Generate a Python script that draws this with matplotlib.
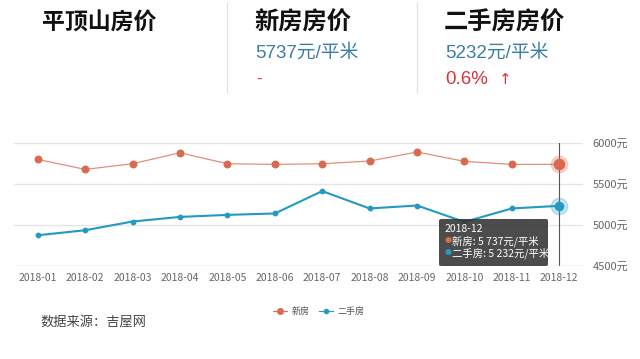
import matplotlib
matplotlib.use("Agg")
import matplotlib.pyplot as plt
from matplotlib.patches import FancyBboxPatch

plt.rcParams['font.family'] = ['Noto Sans CJK SC', 'DejaVu Sans']

# 数据
months = ["2018-01", "2018-02", "2018-03", "2018-04", "2018-05", "2018-06",
          "2018-07", "2018-08", "2018-09", "2018-10", "2018-11", "2018-12"]
new_price = [5797, 5675, 5744, 5878, 5744, 5736, 5744, 5777, 5887, 5773, 5736, 5737]
old_price = [4874, 4935, 5041, 5097, 5122, 5139, 5411, 5200, 5236, 5036, 5200, 5232]
yticks = [4500, 5000, 5500, 6000]

c_new = '#d9694f'
c_old = '#2399c4'
num_font = ['Liberation Sans', 'Noto Sans CJK SC']

fig = plt.figure(figsize=(6.4, 3.59), dpi=100)
fig.patch.set_facecolor('white')

# 顶部标题区
fig.text(42/640, 1-23/359, "平顶山房价", fontsize=16.5, fontweight='bold', va='center', color='#111111')
fig.text(254/640, 1-23/359, "新房房价", fontsize=17.5, fontweight='bold', va='center', color='#111111')
fig.text(255/640, 1-53/359, "5737元/平米", fontsize=13.5, va='center', color='#3a7ea8', family=num_font)
fig.text(256/640, 1-79/359, "-", fontsize=12, va='center', color='#d9343a', family=num_font)
fig.text(444/640, 1-23/359, "二手房房价", fontsize=17.5, fontweight='bold', va='center', color='#111111')
fig.text(445/640, 1-53/359, "5232元/平米", fontsize=13.5, va='center', color='#3a7ea8', family=num_font)
fig.text(445/640, 1-80/359, "0.6%", fontsize=13.5, va='center', color='#d9343a', family=num_font)
fig.text(499/640, 1-80/359, "↑", fontsize=11, va='center', color='#d9343a', family=['DejaVu Sans'])
for xd in [227, 417]:
    fig.add_artist(plt.Line2D([xd/640, xd/640], [1-3/359, 1-92/359], color='#e2e2e2', lw=0.8))

# 主图
ax = fig.add_axes([14/640, 1-266/359, (583-14)/640, (266-142.7)/359])
x = list(range(len(months)))
ax.plot(x, new_price, color=c_new, lw=0.9, alpha=0.75, zorder=3)
ax.scatter(x, new_price, color=c_new, s=22, zorder=4)
ax.plot(x, old_price, color=c_old, lw=1.5, zorder=3)
ax.scatter(x, old_price, color=c_old, s=10, zorder=4)

# 高亮最后一个点
ax.scatter([x[-1]], [new_price[-1]], s=140, color=c_new, alpha=0.25, zorder=4)
ax.scatter([x[-1]], [new_price[-1]], s=55, color=c_new, zorder=5)
ax.scatter([x[-1]], [old_price[-1]], s=140, color=c_old, alpha=0.25, zorder=4)
ax.scatter([x[-1]], [old_price[-1]], s=35, color=c_old, zorder=5)
ax.axvline(x[-1], color='#555555', lw=0.8, zorder=2)

ax.set_xlim(-0.5, 11.5)
ax.set_ylim(4500, 6000)
ax.set_xticks(x)
ax.set_xticklabels(months, fontsize=7.5, color='#666666')
ax.set_yticks(yticks)
ax.set_yticklabels([f"{v}元" for v in yticks], fontsize=8, color='#666666')
ax.yaxis.tick_right()
ax.tick_params(axis='both', length=0, pad=5)
ax.tick_params(axis='y', pad=7)
for s in ax.spines.values():
    s.set_visible(False)
ax.grid(axis='y', color='#e4e4e4', lw=0.9)
ax.axhline(4500, color='#dddddd', lw=1)

# 提示框
tip = FancyBboxPatch((439/640, 1-266/359), (548-439)/640, (266-219)/359,
                     boxstyle='round,pad=0,rounding_size=0.004', transform=fig.transFigure,
                     facecolor='#333333', alpha=0.88, edgecolor='none', zorder=10)
fig.add_artist(tip)
fig.text(445/640, 1-229/359, months[-1], fontsize=7.5, color='white', va='center', zorder=11)
fig.text(445/640, 1-241/359, "●", fontsize=5, color=c_new, va='center', zorder=11)
fig.text(452/640, 1-241/359, f"新房: {new_price[-1]:,}元/平米".replace(',', ' '), fontsize=7.5, color='white', va='center', zorder=11)
fig.text(445/640, 1-253/359, "●", fontsize=5, color=c_old, va='center', zorder=11)
fig.text(452/640, 1-253/359, f"二手房: {old_price[-1]:,}元/平米".replace(',', ' '), fontsize=7.5, color='white', va='center', zorder=11)

# 图例
fig.add_artist(plt.Line2D([273/640, 287/640], [1-311/359]*2, color=c_new, lw=0.8))
fig.add_artist(plt.Line2D([280/640], [1-311/359], marker='o', markersize=4, color=c_new))
fig.text(292/640, 1-311/359, "新房", fontsize=6.5, color='#555555', va='center')
fig.add_artist(plt.Line2D([319/640, 333/640], [1-311/359]*2, color=c_old, lw=0.8))
fig.add_artist(plt.Line2D([326/640], [1-311/359], marker='o', markersize=3, color=c_old))
fig.text(337/640, 1-311/359, "二手房", fontsize=6.5, color='#555555', va='center')

fig.text(40/640, 1-322/359, "数据来源：吉屋网", fontsize=9.5, color='#444444', va='center')

fig.savefig("out.png", dpi=100)
